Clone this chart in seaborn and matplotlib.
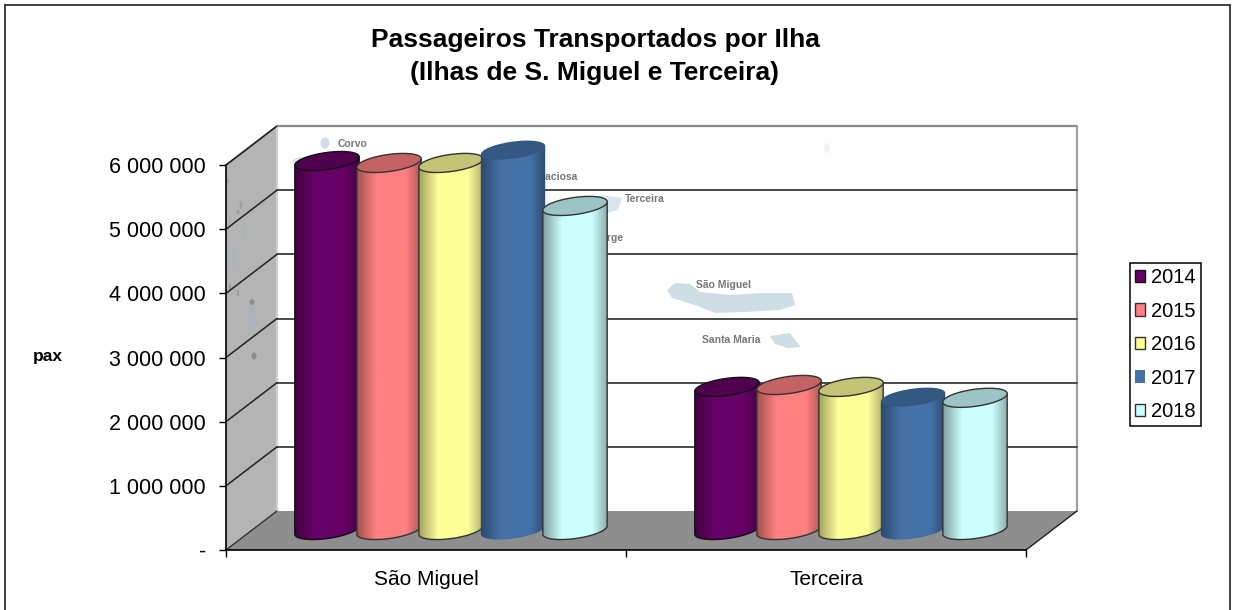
import numpy as np
import pandas as pd
import matplotlib
matplotlib.use("Agg")
import matplotlib.pyplot as plt
from matplotlib.patches import Polygon, Ellipse, PathPatch
from matplotlib.path import Path
from matplotlib.transforms import IdentityTransform
from matplotlib.colors import to_rgb
import seaborn as sns

# Dados
ilhas = ["São Miguel", "Terceira"]
anos = ["2014", "2015", "2016", "2017", "2018"]
sao_miguel = [5750000, 5720000, 5720000, 5920000, 5050000]
terceira = [2230000, 2260000, 2230000, 2070000, 2060000]
y_ticks = [0, 1000000, 2000000, 3000000, 4000000, 5000000, 6000000]
y_labels = ["-", "1 000 000", "2 000 000", "3 000 000", "4 000 000", "5 000 000", "6 000 000"]
cores = ["#660066", "#FF8080", "#FFFF99", "#4472A8", "#CCFFFF"]
bordas = ["#111111", "#333333", "#333333", "none", "#333333"]

W, H = 1233, 610
DX, DY = 51, 39  # profundidade da parede
BX, BY = 25, 20  # cilindros a meio da profundidade
A, B, TILT = 32.5, 8.5, np.radians(8)

df = pd.DataFrame({
    "ilha": [ilhas[0]] * 5 + [ilhas[1]] * 5,
    "ano": anos * 2,
    "pax": sao_miguel + terceira,
})

sns.set_theme(style="white", font="Liberation Sans")
fig = plt.figure(figsize=(W / 100, H / 100), dpi=100, facecolor="white")
ax = fig.add_axes([226 / W, (H - 550) / H, 800 / W, 385 / H])
ax.patch.set_visible(False)

sns.barplot(data=df, x="ilha", y="pax", hue="ano", hue_order=anos, palette=cores,
            saturation=1, width=0.775, gap=0, ax=ax)
ax.set_xlim(-0.5, 1.5)
ax.set_ylim(0, 6000000)
ax.set_autoscale_on(False)
ax.set_xlabel("")
ax.set_ylabel("pax", rotation=0, fontsize=12.5, fontweight="bold", color="black", va="center", ha="center")
ax.yaxis.set_label_coords(48 / W, (H - 356) / H, transform=fig.transFigure)
ax.set_yticks(y_ticks, y_labels)
ax.set_xticks([-0.5, 0.5, 1.5], minor=True)
ax.tick_params(axis="y", left=True, length=5, width=1, color="black", labelsize=15.5, labelcolor="black", pad=9.5)
ax.tick_params(axis="x", which="major", bottom=False, labelsize=15, labelcolor="black", pad=8.5)
ax.tick_params(axis="x", which="minor", bottom=True, length=5, width=1, color="black")
for s in ["top", "right"]:
    ax.spines[s].set_visible(False)
for s in ["left", "bottom"]:
    ax.spines[s].set_color("black")
    ax.spines[s].set_linewidth(1.2)

ident = IdentityTransform()


def px(pts):
    return [(x, H - y) for x, y in pts]


def poly(pts, **kw):
    p = Polygon(px(pts), closed=True, transform=ident, clip_on=False, **kw)
    ax.add_patch(p)
    return p


def seg(p0, p1, **kw):
    ax.plot([p0[0], p1[0]], [H - p0[1], H - p1[1]], transform=ident, clip_on=False, **kw)


# moldura exterior
seg((5, 5), (1230, 5), color="#222222", lw=1.2, zorder=1)
seg((5, 5), (5, 610), color="#222222", lw=1.2, zorder=1)
seg((1230, 5), (1230, 610), color="#222222", lw=1.2, zorder=1)

# paredes e chao
x0, x1, y0, y1 = 226, 1026, 550, 165
poly([(x0, y1), (x0 + DX, y1 - DY), (x0 + DX, y0 - DY), (x0, y0)], fc="#b4b4b4", ec="none", zorder=1)
poly([(x0, y0), (x0 + DX, y0 - DY), (x1 + DX, y0 - DY), (x1, y0)], fc="#8e8e8e", ec="none", zorder=1.1)
seg((x0, y1), (x0 + DX, y1 - DY), color="#333333", lw=1, zorder=1.2)
seg((x0 + DX, y1 - DY), (x1 + DX, y1 - DY), color="#8a8a8a", lw=1.6, zorder=1.2)
seg((x1 + DX, y1 - DY), (x1 + DX, y0 - DY), color="#a0a0a0", lw=1.6, zorder=1.2)
seg((x0 + DX, y1 - DY), (x0 + DX, y0 - DY), color="#d0d0d0", lw=1.6, zorder=1.2)
seg((x1, y0), (x1 + DX, y0 - DY), color="#222222", lw=1, zorder=1.2)
seg((x0, y0), (x0 + DX, y0 - DY), color="#333333", lw=1, zorder=1.2)

# imagem de fundo (mapa dos Acores, muito esbatido)
ilha_cor = "#cfdde5"
poly([(667, 290), (675, 283), (690, 284), (700, 292), (730, 295), (760, 293), (792, 293), (795, 305),
      (780, 310), (745, 312), (715, 313), (695, 305), (672, 298)], fc=ilha_cor, ec="none", zorder=1.3)
poly([(770, 336), (790, 333), (795, 340), (801, 347), (788, 348), (775, 344)], fc=ilha_cor, ec="none", zorder=1.3)
poly([(575, 205), (600, 195), (622, 198), (618, 210), (595, 216), (578, 213)], fc="#dbe6ec", ec="none", zorder=1.3)
ax.add_patch(Ellipse((325, H - 143), 9, 11, fc=ilha_cor, ec="none", transform=ident, clip_on=False, zorder=1.3))
ax.add_patch(Ellipse((827, H - 148), 6, 10, fc="#eef2f4", ec="none", transform=ident, clip_on=False, zorder=1.3))
ax.add_patch(Ellipse((300, H - 162), 14, 10, fc="#dbe6ec", ec="none", transform=ident, clip_on=False, zorder=1.3))
for txt, xt, yt in [("Corvo", 338, 144), ("Graciosa", 534, 177), ("Terceira", 625, 199),
                    ("São Jorge", 573, 238), ("São Miguel", 696, 285), ("Santa Maria", 702, 340)]:
    ax.text(xt, H - yt, txt, transform=ident, fontsize=7.5, fontweight="bold", color="#777777",
            va="center", ha="left", zorder=1.35, clip_on=False)
for xi, yi, wi, hi, ci in [(228, 181, 2, 5, "#9a9fa3"), (241, 205, 3, 8, "#9a9fa3"), (238, 212, 3, 5, "#9a9fa3"),
                           (244, 232, 3, 20, "#aab5bb"), (234, 258, 4, 22, "#aab5bb"), (240, 272, 3, 18, "#aab5bb"),
                           (252, 302, 5, 6, "#8a8f92"), (253, 318, 8, 26, "#aab5bb"), (254, 356, 5, 7, "#8a8f92"),
                           (238, 293, 2, 7, "#9a9fa3"), (230, 287, 2, 7, "#9a9fa3")]:
    ax.add_patch(Ellipse((xi, H - yi), wi, hi, fc=ci, ec="none", transform=ident, clip_on=False, zorder=1.3))

# grelha: nas marcas do eixo, parede lateral e parede de fundo
for v in y_ticks[1:]:
    _, yd = ax.transData.transform((0, v))
    yp = H - yd
    if v < y_ticks[-1]:
        seg((x0 + DX, yp - DY), (x1 + DX, yp - DY), color="#4a4a4a", lw=1.4, zorder=1.5)
    seg((x0, yp), (x0 + DX, yp - DY), color="#222222", lw=1.1, zorder=1.5)

# cilindros a partir das barras do seaborn
barras = []
for cont, cor, borda in zip(ax.containers, cores, bordas):
    for b in cont:
        barras.append((b, cor, borda))
barras.sort(key=lambda t: t[0].get_x())

t_low = np.linspace(np.pi, 2 * np.pi, 40)
t_all = np.linspace(0, 2 * np.pi, 80)


def elipse(cx, cy, t):
    ex = cx + A * np.cos(t) * np.cos(TILT) - B * np.sin(t) * np.sin(TILT)
    ey = cy + A * np.cos(t) * np.sin(TILT) + B * np.sin(t) * np.cos(TILT)
    return np.column_stack([ex, ey])


for i, (b, cor, borda) in enumerate(barras):
    xa, ya = ax.transData.transform((b.get_x(), 0))
    xb, yb = ax.transData.transform((b.get_x() + b.get_width(), b.get_height()))
    b.set_visible(False)
    cx = (xa + xb) / 2 + BX
    yl, yt = ya + BY, yb + BY
    z = 3 + i * 0.01
    corpo = np.vstack([elipse(cx, yl, t_low), elipse(cx, yt, np.array([0.0, np.pi]))])
    clip = PathPatch(Path(np.vstack([corpo, corpo[:1]]), closed=True), transform=ident, fc="none",
                     ec=borda, lw=1, clip_on=False, zorder=z + 0.002)
    ax.add_patch(clip)
    rgb = np.array(to_rgb(cor))
    u = np.linspace(0, 1, 64)
    sombra = np.interp(u, [0, 0.3, 0.75, 1], [0.62, 1, 1, 0.66])
    grad = rgb[None, None, :] * sombra[None, :, None]
    im = ax.imshow(grad, extent=(cx - A - 1, cx + A + 1, yl - B - 8, yt + B + 8), origin="lower",
                   transform=ident, aspect="auto", interpolation="bilinear", zorder=z)
    im.set_clip_box(fig.bbox)
    im.set_clip_path(clip)
    ax.add_patch(Polygon(elipse(cx, yt, t_all), closed=True, transform=ident, fc=rgb * 0.77,
                         ec=borda, lw=1, clip_on=False, zorder=z + 0.004))

ax.set_xlim(-0.5, 1.5)
ax.set_ylim(0, 6000000)

# legenda
sns.move_legend(ax, "upper left", bbox_to_anchor=(1130 / W, 1 - 263 / H), bbox_transform=fig.transFigure,
                title=None, frameon=True, fancybox=False, framealpha=1, edgecolor="black", fontsize=14.5,
                handlelength=0.5, handleheight=0.6, handletextpad=0.3, labelspacing=0.72,
                borderpad=0.25, borderaxespad=0, labelcolor="black")
leg = ax.get_legend()
leg.get_frame().set_linewidth(1.1)
leg.set_zorder(6)
for h, borda in zip(leg.legend_handles, bordas):
    h.set_edgecolor(borda)
    h.set_linewidth(1)

# titulo
fig.text(595 / W, 1 - 40 / H, "Passageiros Transportados por Ilha", ha="center", va="center",
         fontsize=19, fontweight="bold", color="black")
fig.text(595 / W, 1 - 73 / H, "(Ilhas de S. Miguel e Terceira)", ha="center", va="center",
         fontsize=19, fontweight="bold", color="black")

fig.savefig("out.png", dpi=100)
